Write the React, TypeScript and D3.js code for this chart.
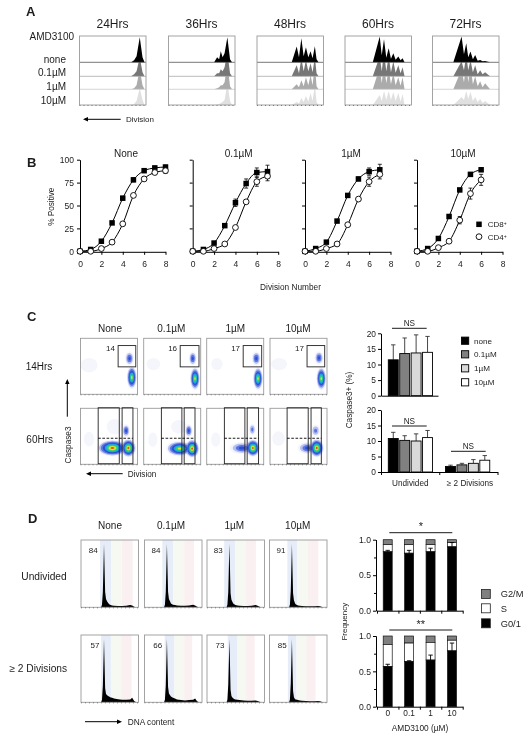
import React, { useEffect, useRef } from 'react';
import * as d3 from 'd3';

const FONT = '"Liberation Sans", Arial, sans-serif';
const INK = '#1c1c1c';

// ---- panel A: stacked division histograms
const hours = ['24Hrs', '36Hrs', '48Hrs', '60Hrs', '72Hrs'];
const doses = ['none', '0.1µM', '1µM', '10µM'];
const doseFills = ['#000000', '#777777', '#ababab', '#e0e0e0'];
const histPositions = [
  [52, 55, 57.5, 60.7, 63.5, 65.5],
  [46, 49, 51, 52.7, 54.5, 56.5, 59.3, 62, 64],
  [35, 40, 42.3, 44.7, 47, 49.3, 51.7, 54, 56, 58.3, 60, 62],
  [28, 35, 37, 39.3, 41.6, 44, 46.3, 48.7, 51, 53.7, 56, 58, 60],
  [21, 29.3, 31.7, 34, 36, 38.3, 40.7, 43, 45.5, 48, 50.5, 53, 58],
];
const histCounts = [
  [[0, 2, 6, 25, 5, 0], [0, 2, 5, 19, 4, 0], [0, 1, 4, 20, 4, 0], [0, 1, 4, 17, 5, 0]],
  [[0, 5, 3, 11, 5, 9, 25, 3, 0], [0, 3, 3, 7, 5, 9, 24, 3, 0], [0, 1, 2, 4, 4, 7, 26, 3, 0], [0, 0.5, 1, 2, 3, 5, 22, 4, 0]],
  [[0, 15.7, 5, 24, 6, 15, 5, 11, 4, 16, 3, 0], [0, 11, 3, 18, 5, 16, 5, 13, 4, 19, 3, 0], [0, 5, 2, 9, 3, 12, 4, 14, 4, 25, 3, 0], [0, 3, 1.5, 7, 3, 9, 3.5, 12, 4, 20, 3, 0]],
  [[0, 25.7, 7, 23, 4.5, 14, 3.5, 9, 2.5, 5.7, 2, 4, 0], [0, 20, 5, 24, 5, 20, 4, 15, 3.5, 11, 3, 9, 0], [0, 22, 6, 25, 6, 20, 5, 16, 4, 12, 3.5, 12, 0], [0, 10, 4, 14, 5, 14, 5, 13, 4, 12, 3.5, 11, 0]],
  [[0, 25.7, 8, 19, 5, 10.7, 3, 7.3, 1.5, 2.3, 1, 1.3, 0], [0, 15, 6, 21, 6, 16, 4, 11, 2, 6, 2, 4, 0], [0, 20, 7, 26, 7, 24, 5, 13, 3, 8, 2, 6, 0], [0, 8, 5, 14, 6, 13, 4, 8, 3, 6, 2, 4, 0]],
];

// ---- panel B: % positive by division number
const concTitles = ['None', '0.1µM', '1µM', '10µM'];
const cd8 = [
  [0, 2, 11, 31, 58, 78, 88, 91, 92],
  [0, 2, 9, 28, 53, 74, 86, 87],
  [0, 3, 10, 33, 61, 79, 87, 89],
  [0, 3, 14, 38, 67, 84, 89],
];
const cd8Err = [
  [0, 0, 1, 1, 2, 2, 1, 2, 2],
  [0, 0, 1, 2, 4, 5, 5, 7],
  [0, 0, 1, 1, 1, 2, 4, 6],
  [0, 0, 1, 1, 1, 2, 2],
];
const cd4 = [
  [0, 0, 3, 10, 30, 61, 79, 86, 88],
  [0, 0, 3, 8, 26, 54, 76, 82],
  [0, 0, 3, 8, 29, 57, 76, 84],
  [0, 0, 4, 11, 34, 63, 78],
];
const cd4Err = [
  [0, 0, 0, 1, 1, 1, 2, 2, 3],
  [0, 0, 0, 1, 1, 1, 5, 5],
  [0, 0, 0, 1, 1, 1, 5, 5],
  [0, 0, 1, 1, 4, 6, 6],
];

// ---- panel C: density plots and caspase bars
const gateLabels = ['14', '16', '17', '17'];
const gate14 = [[66, 97], [64, 97], [64, 96.5], [65, 96]];
const gate60Left = [[31, 68], [31, 67], [31, 67], [30, 67]];
const gate60Right = [[73, 92], [71, 90], [71, 91], [72, 90]];
const densityPalette = ['#f5f6fc', '#b6bff0', '#5b74e2', '#2a4fd0', '#1fa6dc', '#2fd27a', '#dfe22e', '#e2541e'];
// x, y (% of plot), rx, ry (% of plot), levels reached in the palette
const density14 = [
  [[15, 48, 15, 13, 1], [86, 36, 8, 13, 4], [90, 70, 9, 21, 7]],
  [[17, 46, 12, 11, 1], [86, 36, 7, 13, 4], [90, 72, 9, 21, 7]],
  [[18, 46, 10, 11, 1], [87, 36, 8, 13, 4], [90, 72, 9, 21, 7]],
  [[16, 46, 14, 11, 1], [86, 35, 8, 12, 4], [90, 72, 9, 21, 7]],
];
const density60 = [
  [[15, 55, 9, 13, 1], [60, 33, 14, 14, 1], [80, 40, 7, 12, 4], [56, 71, 27, 15, 8], [84, 71, 14, 17, 8]],
  [[16, 56, 8, 13, 1], [62, 33, 14, 12, 1], [79, 40, 7, 12, 4], [63, 72, 24, 14, 7], [85, 72, 13, 17, 8]],
  [[16, 56, 8, 13, 1], [80, 38, 6, 11, 3], [62, 71, 22, 11, 4], [81, 71, 13, 16, 8]],
  [[15, 54, 11, 13, 1], [80, 40, 8, 11, 3], [66, 71, 18, 11, 4], [82, 71, 13, 17, 8]],
];

const caspaseDoses = ['none', '0.1µM', '1µM', '10µM'];
const caspaseFills = ['#000000', '#808080', '#d9d9d9', '#ffffff'];
const caspase14 = [11.5, 13.5, 13.7, 13.9];
const caspase14Hi = [16.3, 18.5, 19.5, 19];
const caspase60Undiv = [10.8, 10.2, 10, 11.1];
const caspase60UndivHi = [12.8, 11.7, 12.3, 13.4];
const caspase60Div = [1.8, 2.3, 2.8, 3.8];
const caspase60DivHi = [2.2, 2.8, 4, 5.3];

// ---- panel D: DNA content histograms and cell cycle bars
const dnaChannels = [35, 36.5, 38, 40, 42, 43.5, 45.5, 47, 49, 50.5, 54, 57.5, 64.5, 71.5, 78.5, 85.5, 89, 92.5, 96];
const dnaShift = [0, -1, -1, -1];
const dnaUndivided = [
  [0, 4, 24, 100, 24, 13, 9, 7, 5, 4, 3, 2.5, 2, 2, 2.5, 3.5, 3, 1, 0],
  [0, 4, 24, 100, 24, 13, 9, 6, 5, 4, 3.5, 3, 2.5, 2.5, 3, 4, 3, 1, 0],
  [0, 4, 24, 100, 22, 12, 8, 5.5, 4.5, 3.5, 3, 2.5, 2, 2, 2.5, 3.5, 2.5, 1, 0],
  [0, 4, 26, 100, 22, 11, 6, 4.5, 3.5, 3, 2.5, 2, 1.5, 1.5, 1.5, 2, 1.5, 0.5, 0],
];
const dnaDivided = [
  [0, 4, 26, 100, 22, 13, 11, 10, 9, 8, 7, 6, 5, 4, 4, 4.5, 7, 2, 0],
  [0, 4, 26, 100, 24, 14, 11, 9, 8, 7, 6, 4.5, 3.5, 3, 3.5, 4, 6, 1.5, 0],
  [0, 4, 28, 100, 20, 10, 7, 6, 5, 4.5, 4, 3.5, 3, 2.5, 2.5, 3, 2, 0.8, 0],
  [0, 4, 30, 100, 18, 8, 5, 4.5, 4, 3.5, 3, 2.5, 2, 1.5, 1.5, 2, 1.5, 0.5, 0],
];
const dnaLabelsUndivided = ['84', '84', '83', '91'];
const dnaLabelsDivided = ['57', '66', '73', '85'];
const bandsUndivided = [[33, 52.6, 71, 90], [31, 50, 69, 86], [30, 49, 68, 85], [31, 48, 66, 85]];
const bandsDivided = [[35, 52, 70, 88], [35, 52, 69, 83], [36, 53, 68, 83], [32, 47, 64, 80]];
const bandFills = ['#e6edf8', '#f6f9f2', '#fbf0f1'];

const cycleLabels = ['0', '0.1', '1', '10'];
const g01Top = [0.83, 0.81, 0.83, 0.9];
const sTopTop = [0.93, 0.93, 0.93, 0.96];
const errTop = [0.85, 0.85, 0.88, 0.96];
const g01Bottom = [0.57, 0.64, 0.66, 0.79];
const sTopBottom = [0.88, 0.9, 0.91, 0.94];
const errBottom = [0.6, 0.65, 0.73, 0.9];
const cycleNames = ['G2/M', 'S', 'G0/1'];
const cycleFills = ['#808080', '#ffffff', '#000000'];

type Sel = d3.Selection<any, unknown, null, undefined>;

function label(g: Sel, x: number, y: number, s: string, size: number, anchor = 'middle', weight = 'normal') {
  return g.append('text').attr('x', x).attr('y', y).attr('dy', '0.35em')
    .attr('text-anchor', anchor).attr('font-size', size).attr('font-weight', weight).attr('fill', INK).text(s);
}

function vLabel(g: Sel, x: number, y: number, s: string, size: number) {
  g.append('text').attr('transform', `translate(${x},${y}) rotate(-90)`).attr('dy', '0.35em')
    .attr('text-anchor', 'middle').attr('font-size', size).attr('fill', INK).text(s);
}

function arrow(g: Sel, x1: number, y1: number, x2: number, y2: number) {
  const a = Math.atan2(y2 - y1, x2 - x1);
  g.append('line').attr('x1', x1).attr('y1', y1).attr('x2', x2).attr('y2', y2).attr('stroke', '#000').attr('stroke-width', 1);
  const p = d3.path();
  p.moveTo(x2 + 2 * Math.cos(a), y2 + 2 * Math.sin(a));
  p.lineTo(x2 - 3 * Math.cos(a) + 2.2 * Math.sin(a), y2 - 3 * Math.sin(a) - 2.2 * Math.cos(a));
  p.lineTo(x2 - 3 * Math.cos(a) - 2.2 * Math.sin(a), y2 - 3 * Math.sin(a) + 2.2 * Math.cos(a));
  p.closePath();
  g.append('path').attr('d', p.toString()).attr('fill', '#000');
}

function styleAxis(a: Sel, size: number) {
  a.attr('font-size', size).attr('font-family', FONT);
  a.selectAll('text').attr('fill', INK);
  return a;
}

function frame(g: Sel, x0: number, x1: number, y0: number, y1: number) {
  g.append('rect').attr('x', x0).attr('y', y0).attr('width', x1 - x0).attr('height', y1 - y0)
    .attr('fill', 'none').attr('stroke', '#9a9a9a').attr('stroke-width', 0.9);
  g.append('line').attr('x1', x0).attr('x2', x1).attr('y1', y1 + 0.5).attr('y2', y1 + 0.5)
    .attr('stroke', '#777').attr('stroke-width', 1).attr('stroke-dasharray', '1 3');
}

function drawPanelA(g: Sel) {
  const lefts = [79.5, 168.5, 257, 345, 432.5];
  const width = 66.5;
  const baseY = [62.3, 76.3, 89.3, 105];
  const lineColors = ['#555', '#aaa', '#ccc'];
  hours.forEach((h, t) => {
    const x = d3.scaleLinear().domain([0, 67]).range([lefts[t], lefts[t] + width]);
    label(g, lefts[t] + 33, 24, h, 12);
    d3.range(3, -1, -1).forEach(r => {
      const area = d3.area<number>()
        .x((_, i) => x(histPositions[t][i]))
        .y0(baseY[r])
        .y1(d => baseY[r] - d);
      g.append('path').attr('d', area(histCounts[t][r])).attr('fill', doseFills[r]);
    });
    baseY.slice(0, 3).forEach((y, i) => {
      g.append('line').attr('x1', lefts[t]).attr('x2', lefts[t] + width).attr('y1', y).attr('y2', y)
        .attr('stroke', lineColors[i]).attr('stroke-width', 0.8);
    });
    frame(g, lefts[t], lefts[t] + width, 36, 105);
  });
  label(g, 74, 36, 'AMD3100', 10, 'end');
  const rowY = [59, 72, 86, 100];
  doses.forEach((d, i) => label(g, 66, rowY[i], d, 10, 'end'));
  arrow(g, 120.7, 119.3, 85, 119.3);
  label(g, 126, 119.3, 'Division', 8, 'start');
}

function drawPanelB(g: Sel) {
  const lefts = [80, 192.7, 305, 417];
  const y = d3.scaleLinear().domain([0, 100]).range([251.3, 159.7]);
  concTitles.forEach((title, c) => {
    const x = d3.scaleLinear().domain([0, 8]).range([lefts[c], lefts[c] + 85.5]);
    label(g, lefts[c] + 46, 153, title, 10);
    const ax = g.append('g').attr('transform', 'translate(0,251.8)')
      .call(d3.axisBottom(x).tickValues([0, 2, 4, 6, 8]).tickFormat(d3.format('d')).tickSize(3).tickSizeOuter(0).tickPadding(6));
    styleAxis(ax, 8.5);
    const ay = g.append('g').attr('transform', `translate(${lefts[c]},0)`)
      .call(d3.axisLeft(y).tickValues([0, 25, 50, 75, 100]).tickSize(3).tickSizeOuter(0).tickPadding(3)
        .tickFormat(c === 0 ? d3.format('d') : () => ''));
    styleAxis(ay, 8.5);
    const line = d3.line<number>().x((_, i) => x(i)).y(d => y(d)).curve(d3.curveMonotoneX);
    [cd8[c], cd4[c]].forEach(vals => {
      g.append('path').attr('d', line(vals)).attr('fill', 'none').attr('stroke', '#000').attr('stroke-width', 1);
    });
    [{ v: cd8[c], e: cd8Err[c] }, { v: cd4[c], e: cd4Err[c] }].forEach(({ v, e }) => {
      v.forEach((d, i) => {
        if (!e[i]) return;
        g.append('path')
          .attr('d', `M${x(i) - 2},${y(d + e[i])}H${x(i) + 2}M${x(i)},${y(d + e[i])}V${y(d - e[i])}M${x(i) - 2},${y(d - e[i])}H${x(i) + 2}`)
          .attr('stroke', '#000').attr('stroke-width', 0.8).attr('fill', 'none');
      });
    });
    cd8[c].forEach((d, i) => {
      g.append('rect').attr('x', x(i) - 2.75).attr('y', y(d) - 2.75).attr('width', 5.5).attr('height', 5.5).attr('fill', '#000');
    });
    cd4[c].forEach((d, i) => {
      g.append('circle').attr('cx', x(i)).attr('cy', y(d)).attr('r', 2.9).attr('fill', '#fff').attr('stroke', '#000').attr('stroke-width', 0.9);
    });
  });
  vLabel(g, 50.7, 206.7, '% Positive', 8.2);
  label(g, 290.5, 286.7, 'Division Number', 8.3);
  g.append('rect').attr('x', 476.25).attr('y', 221.55).attr('width', 5.5).attr('height', 5.5).attr('fill', '#000');
  g.append('circle').attr('cx', 479).attr('cy', 236.7).attr('r', 2.9).attr('fill', '#fff').attr('stroke', '#000').attr('stroke-width', 0.9);
  ['CD8', 'CD4'].forEach((s, i) => {
    const t = label(g, 487.7, i ? 236.7 : 224.3, s, 8, 'start');
    t.append('tspan').attr('dy', -2).attr('font-size', 5).text('+');
  });
}

function densityPlot(g: Sel, x: d3.ScaleLinear<number, number>, y: d3.ScaleLinear<number, number>, blobs: number[][], sx: number, sy: number) {
  // one pass per palette level, so that neighbouring blobs merge like contours
  densityPalette.forEach((fill, i) => {
    blobs.filter(b => b[4] > i).forEach(([cx, cy, rx, ry, lv]) => {
      const k = 1 - i / lv;
      g.append('ellipse').attr('cx', x(cx)).attr('cy', y(cy))
        .attr('rx', rx * sx * k).attr('ry', ry * sy * k)
        .attr('fill', fill).attr('filter', 'url(#soft)');
    });
  });
}

function barGroup(g: Sel, gx: number, band: d3.ScaleBand<string>, y: d3.ScaleLinear<number, number>, vals: number[], hi: number[]) {
  vals.forEach((v, i) => {
    const bx = gx + (band(caspaseDoses[i]) as number);
    const w = band.bandwidth();
    g.append('path')
      .attr('d', `M${bx + w / 2},${y(v)}V${y(hi[i])}M${bx + w / 2 - 2.2},${y(hi[i])}H${bx + w / 2 + 2.2}`)
      .attr('stroke', '#333').attr('stroke-width', 0.9).attr('fill', 'none');
    g.append('rect').attr('x', bx).attr('y', y(v)).attr('width', w).attr('height', y(0) - y(v))
      .attr('fill', caspaseFills[i]).attr('stroke', '#000').attr('stroke-width', 0.9);
  });
}

function bracket(g: Sel, x0: number, x1: number, y: number, s: string, size = 8.2, textY = y - 5) {
  g.append('line').attr('x1', x0).attr('x2', x1).attr('y1', y).attr('y2', y).attr('stroke', '#000').attr('stroke-width', 0.9);
  label(g, (x0 + x1) / 2, textY, s, size);
}

function drawPanelC(g: Sel) {
  const lefts = [80.5, 143.7, 206.7, 270];
  const W = 57;
  const yA = d3.scaleLinear().domain([0, 100]).range([338.3, 394.3]);
  const yB = d3.scaleLinear().domain([0, 100]).range([408.3, 464.3]);
  const titleX = [110, 171.3, 235.3, 298];
  concTitles.forEach((title, c) => {
    const x = d3.scaleLinear().domain([0, 100]).range([lefts[c], lefts[c] + W]);
    label(g, titleX[c], 328.3, title, 10);
    densityPlot(g, x, yA, density14[c], W / 100, 0.56);
    frame(g, lefts[c], lefts[c] + W, 338.3, 394.3);
    g.append('rect').attr('x', x(gate14[c][0])).attr('y', yA(13)).attr('width', x(gate14[c][1]) - x(gate14[c][0])).attr('height', yA(51) - yA(13))
      .attr('fill', 'none').attr('stroke', '#222').attr('stroke-width', 0.9);
    label(g, x(gate14[c][0]) - 7.6, 348, gateLabels[c], 8);
    densityPlot(g, x, yB, density60[c], W / 100, 0.56);
    frame(g, lefts[c], lefts[c] + W, 408.3, 464.3);
    [gate60Left[c], gate60Right[c]].forEach(([a, b]) => {
      g.append('rect').attr('x', x(a)).attr('y', yB(-1)).attr('width', x(b) - x(a)).attr('height', yB(99) - yB(-1))
        .attr('fill', 'none').attr('stroke', '#222').attr('stroke-width', 0.9);
    });
    g.append('line').attr('x1', x(gate60Left[c][0])).attr('x2', x(gate60Right[c][1])).attr('y1', yB(53.5)).attr('y2', yB(53.5))
      .attr('stroke', '#000').attr('stroke-width', 0.9).attr('stroke-dasharray', '2.6 1.6');
  });
  label(g, 39, 366.3, '14Hrs', 10);
  label(g, 39.7, 439.3, '60Hrs', 10);
  arrow(g, 67.3, 416.7, 67.3, 381);
  vLabel(g, 67.7, 445, 'Caspase3', 8.2);
  arrow(g, 122.7, 473.7, 88, 473.7);
  label(g, 127.7, 473.7, 'Division', 8.2, 'start');

  const band = d3.scaleBand<string>().domain(caspaseDoses).range([7.3, 51.5]).paddingInner(0.13);
  const yTop = d3.scaleLinear().domain([0, 20]).range([395.7, 333.3]);
  const yBot = d3.scaleLinear().domain([0, 20]).range([472, 410]);
  const groupTop = d3.scaleLinear().domain([0, 1]).range([381, 438]);
  const groupBot = d3.scaleLinear().domain([0, 2]).range([381, 497.5]);
  barGroup(g, groupTop(0), band, yTop, caspase14, caspase14Hi);
  barGroup(g, groupBot(0), band, yBot, caspase60Undiv, caspase60UndivHi);
  barGroup(g, groupBot(1) - 1, band, yBot, caspase60Div, caspase60DivHi);
  [[yTop, groupTop, 1], [yBot, groupBot, 2]].forEach(([yy, gg, n]: any) => {
    styleAxis(g.append('g').attr('transform', 'translate(381,0)')
      .call(d3.axisLeft(yy).tickValues([0, 5, 10, 15, 20]).tickSize(3).tickSizeOuter(0).tickPadding(2)), 8.4);
    g.append('g').attr('transform', `translate(0,${yy(0)})`)
      .call(d3.axisBottom(gg).tickValues(n === 1 ? [] : [0, 1, 2]).tickSize(3).tickSizeOuter(0).tickFormat(() => ''));
  });
  vLabel(g, 349, 400, 'Caspase3+ (%)', 8.2);
  bracket(g, 392, 426.7, 328.3, 'NS');
  bracket(g, 392, 426.7, 426, 'NS');
  bracket(g, 451, 485.7, 451.3, 'NS');
  label(g, 410.3, 483.3, 'Undivided', 8.2);
  label(g, 470, 483.3, '≥ 2 Divisions', 8.2);
  const legY = [340.7, 354.3, 368.3, 382.3];
  caspaseDoses.forEach((d, i) => {
    g.append('rect').attr('x', 461.5).attr('y', legY[i] - 3.6).attr('width', 7.2).attr('height', 7.2)
      .attr('fill', caspaseFills[i]).attr('stroke', '#000').attr('stroke-width', 0.9);
    label(g, 474, legY[i], d, 8.1, 'start');
  });
}

function dnaPanel(g: Sel, left: number, top: number, c: number, bands: number[], vals: number[], text: string, textX: number, textY: number) {
  const W = 57.5, H = 67.3;
  const x = d3.scaleLinear().domain([0, 100]).range([left, left + W]);
  const y = d3.scaleLinear().domain([0, 100]).range([top + H, top + 4]);
  bandFills.forEach((f, i) => {
    g.append('rect').attr('x', x(bands[i])).attr('y', top).attr('width', x(bands[i + 1]) - x(bands[i])).attr('height', H).attr('fill', f);
  });
  const area = d3.area<number>().x((_, i) => x(dnaChannels[i] + dnaShift[c])).y0(y(0)).y1(d => y(d));
  g.append('path').attr('d', area(vals)).attr('fill', '#000');
  frame(g, left, left + W, top, top + H);
  label(g, textX, textY, text, 8);
}

function cycleBars(g: Sel, y: d3.ScaleLinear<number, number>, band: d3.ScaleBand<string>, g01: number[], sTop: number[], err: number[]) {
  cycleLabels.forEach((c, i) => {
    const bx = band(c) as number, w = band.bandwidth();
    [[sTop[i], 1, cycleFills[0]], [g01[i], sTop[i], cycleFills[1]], [0, g01[i], cycleFills[2]]].forEach(([a, b, f]: any) => {
      g.append('rect').attr('x', bx).attr('y', y(b)).attr('width', w).attr('height', y(a) - y(b))
        .attr('fill', f).attr('stroke', '#111').attr('stroke-width', 0.7);
    });
    g.append('path').attr('d', `M${bx + w / 2},${y(g01[i])}V${y(err[i])}M${bx + w / 2 - 2.2},${y(err[i])}H${bx + w / 2 + 2.2}`)
      .attr('stroke', '#000').attr('stroke-width', 0.9).attr('fill', 'none');
  });
}

function drawPanelD(g: Sel) {
  const lefts = [81, 144.5, 207, 269.5];
  const topA = 540, topB = 635;
  const titleX = [110, 171, 234.3, 297.7];
  const lxA = [93.3, 156, 218.3, 281];
  const lxB = [95, 157.7, 220, 282.3];
  concTitles.forEach((title, c) => {
    label(g, titleX[c], 525, title, 10);
    dnaPanel(g, lefts[c], topA, c, bandsUndivided[c], dnaUndivided[c], dnaLabelsUndivided[c], lxA[c], 549.7);
    dnaPanel(g, lefts[c], topB, c, bandsDivided[c], dnaDivided[c], dnaLabelsDivided[c], lxB[c], 645);
  });
  label(g, 44, 576, 'Undivided', 10.2);
  label(g, 38.3, 668.3, '≥ 2 Divisions', 10.2);
  arrow(g, 85, 721.7, 120, 721.7);
  label(g, 127.7, 721.7, 'DNA content', 8.3, 'start');

  const band = d3.scaleBand<string>().domain(cycleLabels).range([377, 462.7]).paddingInner(0.58).paddingOuter(0.29);
  const yTop = d3.scaleLinear().domain([0, 1]).range([610.7, 539.7]);
  const yBot = d3.scaleLinear().domain([0, 1]).range([706.7, 636]);
  const tickX = d3.scaleLinear().domain([0, 4]).range([377, 462.7]);
  cycleBars(g, yTop, band, g01Top, sTopTop, errTop);
  cycleBars(g, yBot, band, g01Bottom, sTopBottom, errBottom);
  [yTop, yBot].forEach(yy => {
    styleAxis(g.append('g').attr('transform', 'translate(376,0)')
      .call(d3.axisLeft(yy).tickValues([0, 0.5, 1]).tickFormat(d3.format('.1f')).tickSize(3).tickSizeOuter(0).tickPadding(2)), 8.6);
    g.append('g').attr('transform', 'translate(376,0)')
      .call(d3.axisLeft(yy).tickValues([0.25, 0.75]).tickFormat(() => '').tickSize(2).tickSizeOuter(0));
    g.append('g').attr('transform', `translate(0,${yy(0)})`)
      .call(d3.axisBottom(tickX).tickValues([0, 1, 2, 3, 4]).tickFormat(() => '').tickSize(3).tickSizeOuter(0));
  });
  cycleLabels.forEach(c => label(g, (band(c) as number) + band.bandwidth() / 2, 713.5, c, 8.3));
  vLabel(g, 344.3, 621.7, 'Frequency', 8);
  label(g, 420, 728.5, 'AMD3100 (µM)', 8.3);
  bracket(g, 389.3, 452.3, 532.7, '*', 11, 526.5);
  bracket(g, 389.3, 452.3, 630, '**', 11, 624.5);
  const legY = [594, 608.3, 623.3];
  cycleNames.forEach((n, i) => {
    g.append('rect').attr('x', 481.5).attr('y', legY[i] - 4.5).attr('width', 8.8).attr('height', 9)
      .attr('fill', cycleFills[i]).attr('stroke', '#222').attr('stroke-width', 0.8);
    label(g, 500.7, legY[i], n, 9.3, 'start');
  });
}

export default function App() {
  const ref = useRef<SVGSVGElement>(null);

  useEffect(() => {
    const svg = d3.select(ref.current) as unknown as Sel;
    svg.selectAll('*').remove();
    svg.append('defs').append('filter').attr('id', 'soft')
      .attr('x', '-30%').attr('y', '-30%').attr('width', '160%').attr('height', '160%')
      .append('feGaussianBlur').attr('stdDeviation', 0.7);
    const g = svg.append('g').attr('font-family', FONT).attr('opacity', 0.999);
    label(g, 26, 11, 'A', 13, 'start', 'bold');
    label(g, 27, 162, 'B', 13, 'start', 'bold');
    label(g, 27, 316, 'C', 13, 'start', 'bold');
    label(g, 28, 518, 'D', 13, 'start', 'bold');
    drawPanelA(g);
    drawPanelB(g);
    drawPanelC(g);
    drawPanelD(g);
  }, []);

  return (
    <svg ref={ref} width={532} height={739}
      style={{ position: 'absolute', left: 0, top: 0, background: '#fff' }} />
  );
}
